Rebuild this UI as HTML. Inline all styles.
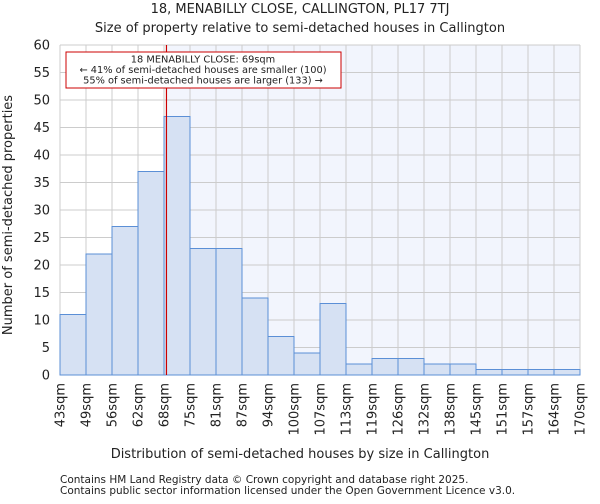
<!DOCTYPE html>
<html><head><meta charset="utf-8"><style>
body{margin:0;background:#fff;font-family:"DejaVu Sans","Liberation Sans",sans-serif}
svg text{font-family:"DejaVu Sans","Liberation Sans",sans-serif;fill:#222}
</style></head><body>
<svg id="chart" width="600" height="500" xmlns="http://www.w3.org/2000/svg">
<text x="300" y="13" text-anchor="middle" font-size="13">18, MENABILLY CLOSE, CALLINGTON, PL17 7TJ</text>
<text x="300" y="32" text-anchor="middle" font-size="13">Size of property relative to semi-detached houses in Callington</text>
<g id="plot"></g>
<text x="300" y="458" text-anchor="middle" font-size="13">Distribution of semi-detached houses by size in Callington</text>
<text transform="translate(12,215) rotate(-90)" text-anchor="middle" font-size="13">Number of semi-detached properties</text>
<text x="60" y="483" font-size="10.5" fill="#555">Contains HM Land Registry data © Crown copyright and database right 2025.</text>
<text x="60" y="494" font-size="10.5" fill="#555">Contains public sector information licensed under the Open Government Licence v3.0.</text>
</svg>
<script>
const binLabels=["43sqm","49sqm","56sqm","62sqm","68sqm","75sqm","81sqm","87sqm","94sqm","100sqm","107sqm","113sqm","119sqm","126sqm","132sqm","138sqm","145sqm","151sqm","157sqm","164sqm","170sqm"];
const counts=[11,22,27,37,47,23,23,14,7,4,13,2,3,3,2,2,1,1,1,1];
const yTicks=[0,5,10,15,20,25,30,35,40,45,50,55,60];
const subjectSize=69;
const minSize=43, binWidth=6.35;
const L=60,R=580,T=45,B=375,yMax=60;
const bw=(R-L)/counts.length;
const xs=v=>L+(v-minSize)/binWidth*bw;
const xi=i=>L+i*bw;
const ys=v=>B-(v/yMax)*(B-T);
const NS="http://www.w3.org/2000/svg";
const g=document.getElementById('plot');
function mk(t,a){const e=document.createElementNS(NS,t);for(const k in a)e.setAttribute(k,a[k]);g.appendChild(e);return e;}
const sx=xs(subjectSize);
let e=mk('rect',{x:sx,y:T,width:R-sx,height:B-T,fill:'#f2f5fd'});


yTicks.forEach(t=>{
 let l=mk('line',{x1:L,x2:R,y1:ys(t),y2:ys(t),stroke:'#ccc','stroke-width':1});
 
 
 let tx=mk('text',{x:L-10,y:ys(t)+4.5,'text-anchor':'end','font-size':13});
 tx.textContent=t;
 
 
});
binLabels.forEach((lab,i)=>{
 let l=mk('line',{x1:xi(i),x2:xi(i),y1:T,y2:B,stroke:'#ccc','stroke-width':1});
 
 
 let tx=mk('text',{transform:`translate(${xi(i)+4.5},${B+8}) rotate(-90)`,'text-anchor':'end','font-size':13});
 tx.textContent=lab;
 
 
});
counts.forEach((c,i)=>{
 let r=mk('rect',{x:xi(i),y:ys(c),width:bw,height:B-ys(c),fill:'#d6e1f3',stroke:'#5b8fd6','stroke-width':1});
 
 
});
e=mk('line',{x1:sx,x2:sx,y1:T,y2:B,stroke:'#cc0000','stroke-width':1.2});


e=mk('rect',{x:66,y:52,width:275,height:36,fill:'#fff',stroke:'#cc0000','stroke-width':1});


["18 MENABILLY CLOSE: 69sqm","← 41% of semi-detached houses are smaller (100)","55% of semi-detached houses are larger (133) →"].forEach((s,i)=>{
 let tx=mk('text',{x:203,y:62.5+i*10.5,'text-anchor':'middle','font-size':9.8});
 tx.textContent=s;
 
 
});
</script>
</body></html>
